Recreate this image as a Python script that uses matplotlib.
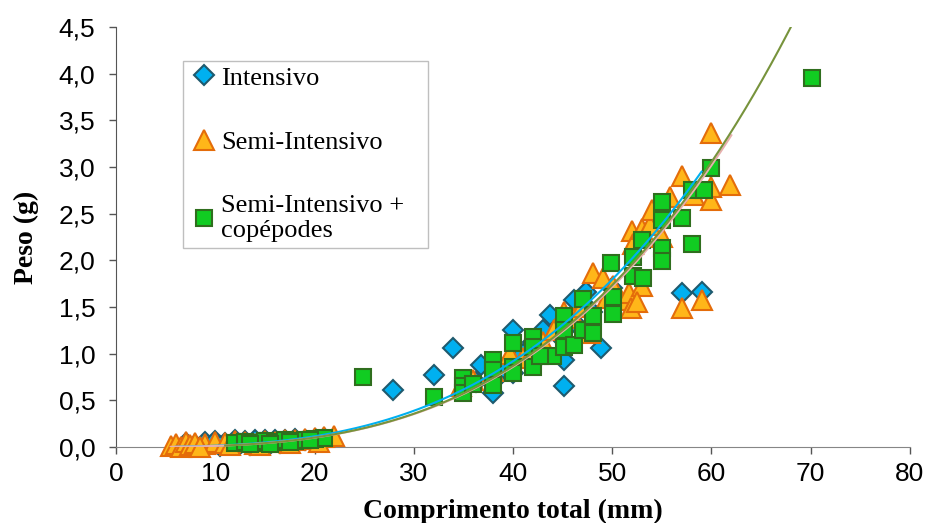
"""
plot.py - Peso vs comprimento total, three rearing systems with power trend lines.
"""
import numpy as np
import matplotlib.pyplot as plt
from matplotlib.ticker import FuncFormatter

# Intensivo
int_x = [7, 8, 9, 10, 11, 12, 12.5, 13, 14, 14.5, 15, 16, 16.5, 17, 18, 19, 20, 21, 10.5, 13.5, 15.5,
         27.9, 32, 34, 36.3, 36.8, 38, 38.5, 40, 40, 41, 42, 43, 43.7, 44.5, 45.1, 45.1, 46.1, 46.5,
         47.4, 48.9, 48, 50, 57, 59, 39, 42.5]
int_y = [0.04, 0.02, 0.05, 0.06, 0.04, 0.07, 0.03, 0.06, 0.07, 0.04, 0.08, 0.07, 0.04, 0.08, 0.09, 0.07, 0.09, 0.10, 0.01, 0.02, 0.03,
         0.61, 0.77, 1.06, 0.70, 0.88, 0.58, 0.75, 1.25, 0.79, 1.00, 1.12, 1.25, 1.41, 1.20, 0.93, 0.65, 1.58, 1.30,
         1.66, 1.06, 1.45, 1.70, 1.65, 1.66, 0.85, 0.95]

# Semi-Intensivo
semi_x = [5.5, 6, 6.5, 7, 7.5, 8, 9, 10, 11, 12, 13, 14, 15, 16, 17, 18, 19, 20, 21, 22, 8.5, 11.5, 14.5, 17.5, 20.5,
          34.8, 36, 38, 39.7, 41, 42, 43, 44.1, 45.1, 46.1, 47.8, 48.1, 49.1, 50.1, 50.9, 51.7, 51.9, 52, 52.1,
          53, 53, 53.8, 54, 55.8, 55, 57, 58.2, 60, 60, 60, 61.9, 57, 59, 52.5, 47, 49.5]
semi_y = [0.01, 0.03, 0.00, 0.05, 0.02, 0.04, 0.03, 0.05, 0.04, 0.06, 0.05, 0.03, 0.06, 0.05, 0.08, 0.07, 0.09, 0.10, 0.11, 0.12, 0.00, 0.02, 0.02, 0.04, 0.05,
          0.65, 0.72, 0.81, 1.00, 0.95, 1.05, 1.12, 1.25, 1.45, 1.38, 1.22, 1.86, 1.81, 1.72, 1.58, 1.65, 1.49, 2.31, 2.17,
          2.34, 1.72, 2.38, 2.54, 2.68, 2.25, 2.90, 2.70, 2.65, 2.79, 3.36, 2.81, 1.49, 1.58, 1.55, 1.50, 1.60]

# Semi-Intensivo + copépodes
cop_x = [12, 13, 14, 15, 16, 17, 18, 19, 20, 21, 13.5, 15.5, 17.5, 19.5,
         24.9, 32, 35, 35, 35, 36, 38, 38, 38, 40, 40, 40, 42, 42, 42, 44, 42.7, 45.1, 45.1, 45.1, 46.1,
         47.1, 47.1, 48.1, 48.1, 49.9, 50.1, 50.1, 52.1, 52.1, 53.1, 53, 55, 55, 55, 55, 57, 58, 58, 59.2, 60, 70.1]
cop_y = [0.04, 0.05, 0.04, 0.06, 0.05, 0.07, 0.06, 0.08, 0.09, 0.10, 0.03, 0.03, 0.05, 0.07,
         0.75, 0.54, 0.74, 0.65, 0.58, 0.68, 0.93, 0.82, 0.66, 1.11, 0.86, 0.79, 1.18, 1.07, 0.86, 0.97, 0.97, 1.40, 1.25, 1.07, 1.09,
         1.59, 1.25, 1.40, 1.22, 1.97, 1.61, 1.43, 2.04, 1.83, 1.81, 2.22, 2.63, 2.43, 2.13, 1.99, 2.45, 2.17, 2.75, 2.75, 2.99, 3.95]

# power trend lines y = y_end * (x / x_end) ** b
trend_names = ["Intensivo", "Semi-Intensivo", "Semi-Intensivo + copépodes"]
trend_start = [6, 5.5, 11]
trend_end = [59, 62, 68]
trend_yend = [2.95, 3.34, 4.5]
trend_exp = [3.0, 3.1, 3.1]
trend_colors = ["#00B0F0", "#E6B0AE", "#77933C"]

plt.rcParams["font.family"] = ["Liberation Sans", "DejaVu Sans"]

fig = plt.figure(figsize=(9.29, 5.23), dpi=100)
ax = fig.add_axes([0.1249, 0.1453, 0.8546, 0.8031])

common = dict(linestyle="none", clip_on=False)
ax.plot(int_x, int_y, marker="D", markersize=10, markerfacecolor="#00B0F0",
        markeredgecolor="#1F5A6E", markeredgewidth=1.5, label="Intensivo", zorder=3, **common)
ax.plot(semi_x, semi_y, marker="^", markersize=14, markerfacecolor="#FFB619",
        markeredgecolor="#E46C0A", markeredgewidth=1.5, label="Semi-Intensivo", zorder=4, **common)
ax.plot(cop_x, cop_y, marker="s", markersize=11, markerfacecolor="#11CC22",
        markeredgecolor="#2F6E1E", markeredgewidth=1.5, label="Semi-Intensivo +\ncopépodes", zorder=5, **common)

for x0, x1, y1, b, c in zip(trend_start, trend_end, trend_yend, trend_exp, trend_colors):
    xs = np.linspace(x0, x1, 200)
    ax.plot(xs, y1 * (xs / x1) ** b, color=c, linewidth=1.5, zorder=6)

ax.set_xlim(0, 80)
ax.set_ylim(0, 4.5)
ax.set_xticks(range(0, 81, 10))
ax.set_yticks(np.arange(0, 4.51, 0.5))
ax.yaxis.set_major_formatter(FuncFormatter(lambda v, p: f"{v:.1f}".replace(".", ",")))
ax.tick_params(direction="out", length=5, width=1, labelsize=19, color="#555555")
ax.tick_params(axis="y", pad=10)
ax.tick_params(axis="x", pad=6)

for side in ["top", "right"]:
    ax.spines[side].set_visible(False)
ax.spines["left"].set_color("#555555")
ax.spines["bottom"].set_color("#868686")

ax.set_xlabel("Comprimento total (mm)", family="Liberation Serif", fontweight="bold",
              fontsize=20, labelpad=9)
ax.set_ylabel("Peso (g)", family="Liberation Serif", fontweight="bold", fontsize=20, labelpad=14)

leg = ax.legend(loc="upper left", bbox_to_anchor=(0.0844, 0.4905, 0.3086, 0.4286), mode="expand",
                borderaxespad=0, prop={"family": "Liberation Serif", "size": 19},
                handlelength=1.2, handletextpad=0.05, borderpad=0.2, labelspacing=1.55,
                fancybox=False, framealpha=1)
leg.get_frame().set_edgecolor("#BFBFBF")
leg.get_frame().set_linewidth(1)

fig.savefig("out.png", dpi=100)
plt.close(fig)
